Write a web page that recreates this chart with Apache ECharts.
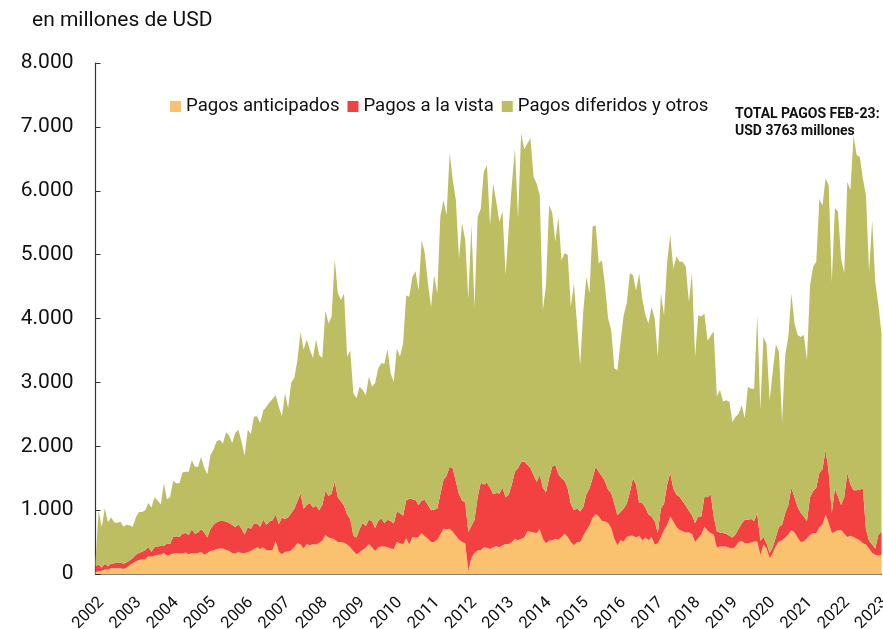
<!DOCTYPE html>
<html><head><meta charset="utf-8">
<script src="https://cdn.jsdelivr.net/npm/echarts/dist/echarts.min.js"></script>
<style>html,body{margin:0;padding:0;background:#fff}#c{width:883px;height:629px}</style>
</head><body><div id="c"></div>
<script>
// Monthly values, Jan 2002 – Feb 2023, USD millions
const seriesNames = ['Pagos anticipados', 'Pagos a la vista', 'Pagos diferidos y otros'];
const firstYear = 2002;
const yTicks = [0, 1000, 2000, 3000, 4000, 5000, 6000, 7000, 8000];

const anticipados = [
  30,40,50,70,70,90,90,90,90,80,100,140,
  170,200,220,230,230,280,270,290,300,300,330,290,
  300,320,330,320,320,340,310,330,320,330,350,300,
  330,360,370,390,400,400,380,360,330,320,350,330,
  330,340,360,390,420,390,420,370,370,380,520,350,
  310,350,350,370,420,480,460,400,470,450,470,460,
  490,520,610,570,560,540,500,500,490,460,420,360,
  310,340,380,410,470,420,360,420,430,430,420,400,
  390,500,480,460,560,460,580,570,580,640,590,550,
  500,500,540,620,710,700,710,660,600,540,500,480,
  60,250,330,370,370,420,410,390,420,440,420,450,
  470,470,500,550,530,550,570,670,660,650,640,700,
  550,480,520,530,550,540,580,630,580,500,450,500,
  500,600,690,760,880,940,900,830,820,800,720,550,
  450,530,510,580,600,600,570,600,530,570,530,580,
  460,480,580,690,770,900,820,740,690,670,650,650,
  630,500,560,620,740,680,640,620,410,430,430,430,
  410,400,430,500,520,480,480,490,510,510,300,460,
  400,250,330,440,510,530,570,620,690,650,570,500,
  510,560,610,640,640,730,770,930,800,640,660,690,
  690,630,580,600,580,550,530,480,460,400,330,300,
  290,300
];
const aLaVista = [
  90,110,50,90,50,70,80,90,90,80,80,70,
  80,100,110,120,140,140,80,130,130,140,110,190,
  170,260,260,260,310,300,300,370,310,320,350,350,
  240,340,400,420,430,430,440,440,440,410,430,380,
  290,390,350,400,370,350,430,400,450,460,410,430,
  570,510,540,580,600,660,800,620,610,660,570,610,
  510,560,690,650,700,910,700,640,580,470,440,240,
  260,360,420,340,380,410,360,410,440,370,430,430,
  400,480,470,450,590,720,590,590,500,510,570,530,
  500,510,480,630,760,840,970,990,850,710,650,640,
  600,500,520,830,1060,980,1020,960,830,830,840,900,
  730,770,900,1050,1130,1200,1190,1040,1000,900,800,850,
  800,800,980,1150,1160,1020,920,830,760,600,550,530,
  480,450,560,580,620,740,700,700,630,520,550,550,
  470,440,510,520,680,900,830,510,580,470,400,320,
  360,160,450,410,630,680,520,500,520,470,420,340,
  290,300,340,280,470,520,610,280,260,220,210,200,
  190,170,190,210,270,370,370,370,320,440,220,120,
  80,80,90,140,230,240,380,460,660,550,480,460,
  390,270,590,660,710,850,870,1010,800,310,680,520,
  390,570,1000,800,730,760,790,860,240,120,130,100,
  330,360
];
const diferidos = [
  80,850,630,870,690,730,640,620,640,580,590,550,
  490,590,640,620,630,690,690,780,720,650,980,690,
  730,880,830,840,960,960,990,1080,1050,1030,1130,1010,
  990,1160,1180,1270,1270,1210,1400,1370,1280,1480,1480,1360,
  1230,1530,1480,1670,1680,1620,1710,1850,1870,1900,1870,1840,
  1590,1970,1710,2050,2050,2210,2530,2490,2590,2400,2340,2600,
  2430,2300,2820,2700,2770,3480,3200,3150,3320,2470,2640,2230,
  2180,2230,2080,2050,2240,2100,2270,2390,2430,2490,2670,2310,
  2220,2550,2450,2700,3210,3160,3480,3580,3360,4080,3860,3470,
  3180,3670,3370,4350,4380,4080,4910,4520,4400,3690,4340,4110,
  3650,4710,3330,4390,4290,4900,4970,4110,4860,4560,4250,4330,
  3480,4170,4690,5060,3910,5150,4890,5030,5160,4670,4670,4380,
  2780,3240,4270,3980,3490,4030,3410,3560,3660,3080,3550,2870,
  2290,3060,3400,3050,3940,3780,3260,3380,3070,2680,2550,2120,
  2270,2670,3030,3140,3430,3180,3040,3600,3200,3010,2990,3280,
  3180,2760,3360,2950,3490,3730,3440,3730,3680,3750,3740,3270,
  3790,2600,3150,3130,2870,2450,2480,2900,2110,2230,2060,2090,
  2100,1810,1840,1800,1850,1590,2080,2040,2070,3100,2050,3130,
  3120,2390,2750,3020,2730,1610,2480,2630,3040,2720,2690,2750,
  2840,2520,3320,3510,3540,4290,4130,4250,4490,3620,4390,4460,
  3860,3510,4560,4610,5560,5250,5210,4850,5230,4210,5080,4170,
  3590,3103
];

const months = anticipados.map((_, i) =>
  (firstYear + Math.floor(i / 12)) + '-' + String(i % 12 + 1).padStart(2, '0'));

const colors = ['#FAC16F', '#F34141', '#BDBE62'];
const FONT = 'Roboto';
const fmtThousands = v => String(v).replace(/\B(?=(\d{3})+(?!\d))/g, '.');
const isJan = (i) => i % 12 === 0;

const chart = echarts.init(document.getElementById('c'), null, {renderer: 'canvas'});
const dataSets = [anticipados, aLaVista, diferidos];

chart.setOption({
  animation: false,
  backgroundColor: '#ffffff',
  textStyle: {fontFamily: FONT},
  grid: {left: 95.5, right: 1.5, top: 63, bottom: 55, containLabel: false, outerBoundsMode: 'none'},
  legend: {
    data: seriesNames,
    left: 165, top: 92,
    icon: 'rect', itemWidth: 11, itemHeight: 11, itemGap: 8,
    textStyle: {fontSize: 18.6, color: '#111', fontFamily: FONT}
  },
  xAxis: {
    type: 'category',
    data: months,
    boundaryGap: false,
    axisLine: {lineStyle: {color: '#5a5a5a', width: 1.5}},
    axisTick: {show: true, inside: true, length: 5, interval: isJan, lineStyle: {color: '#333'}},
    axisLabel: {
      interval: isJan, rotate: 45, fontSize: 16.5, color: '#111', margin: 20,
      verticalAlign: 'top', hideOverlap: false,
      fontFamily: FONT, formatter: v => v.slice(0, 4)
    },
    splitLine: {show: false}
  },
  yAxis: {
    type: 'value',
    min: yTicks[0], max: yTicks[yTicks.length - 1], interval: 1000,
    axisLine: {show: true, lineStyle: {color: '#333', width: 1.2}},
    axisTick: {show: true, inside: true, length: 5, lineStyle: {color: '#333'}},
    axisLabel: {fontSize: 21, color: '#111', margin: 22, fontFamily: FONT, formatter: v => fmtThousands(v)},
    splitLine: {show: false}
  },
  series: seriesNames.map((name, k) => ({
    name, type: 'line', stack: 'total', data: dataSets[k],
    symbol: 'none', smooth: false,
    lineStyle: {width: 0, color: colors[k]},
    itemStyle: {color: colors[k]},
    areaStyle: {color: colors[k], opacity: 1},
    emphasis: {disabled: true},
    z: 2
  })),
  graphic: [
    {type: 'text', left: 32, top: 10,
     style: {text: 'en millones de USD', font: '21px Roboto', fill: '#111'}},
    {type: 'text', left: 735, top: 106,
     style: {text: 'TOTAL PAGOS FEB-23:\nUSD 3763 millones', font: 'bold 14px Roboto', lineHeight: 17, fill: '#111'}}
  ]
});
</script>
</body></html>
